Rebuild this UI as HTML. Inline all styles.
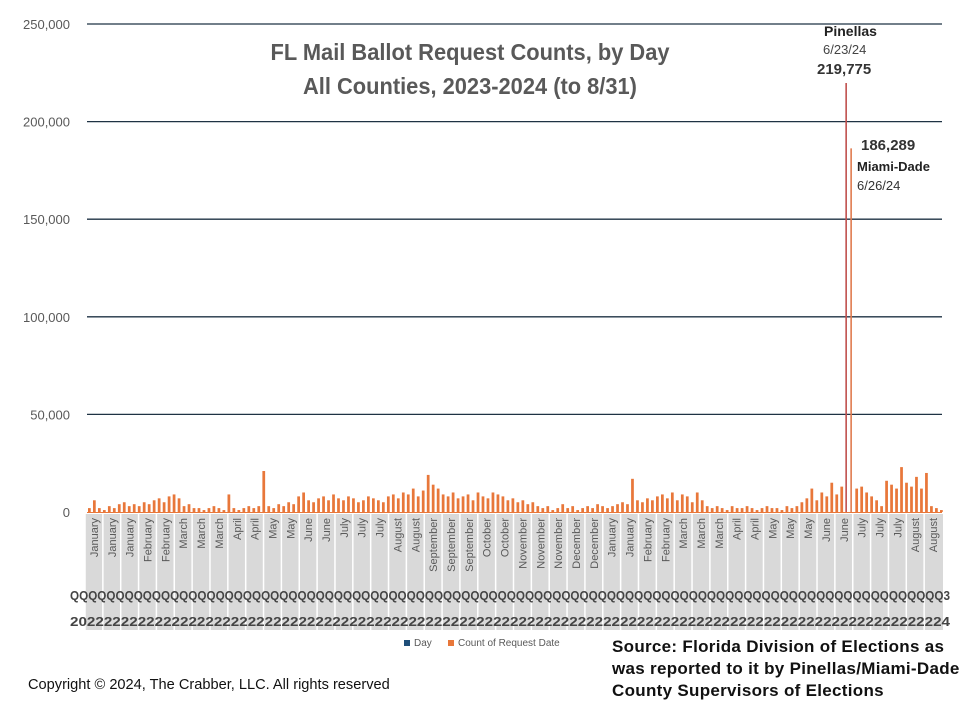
<!DOCTYPE html>
<html><head><meta charset="utf-8">
<style>
body{margin:0;background:#fff;}
#wrap{position:relative;width:967px;height:705px;overflow:hidden;font-family:"Liberation Sans",sans-serif;}
.t{position:absolute;white-space:nowrap;}
</style></head>
<body>
<div id="wrap">
<svg id="chart" width="967" height="705" style="position:absolute;left:0;top:0"></svg>
<div class="t" style="left:170px;top:35px;width:600px;text-align:center;font-weight:bold;font-size:23px;line-height:34px;color:#595959;transform:scaleX(0.95);transform-origin:center;">FL Mail Ballot Request Counts, by Day<br>All Counties, 2023-2024 (to 8/31)</div>
<div class="t" style="left:824px;top:23px;font-weight:bold;font-size:14px;color:#222;">Pinellas</div>
<div class="t" style="left:823px;top:42px;font-size:13px;color:#444;">6/23/24</div>
<div class="t" style="left:817px;top:61px;font-weight:bold;font-size:15px;color:#333;">219,775</div>
<div class="t" style="left:861px;top:137px;font-weight:bold;font-size:15px;color:#333;">186,289</div>
<div class="t" style="left:857px;top:159px;font-weight:bold;font-size:13px;color:#222;">Miami-Dade</div>
<div class="t" style="left:857px;top:178px;font-size:13px;color:#333;">6/26/24</div>
<div class="t" style="left:612px;top:636px;font-weight:bold;font-size:17px;letter-spacing:0.3px;line-height:22px;color:#111;">Source: Florida Division of Elections as<br>was reported to it by Pinellas/Miami-Dade<br>County Supervisors of Elections</div>
<div class="t" style="left:28px;top:677px;font-size:14.6px;color:#111;">Copyright © 2024, The Crabber, LLC. All rights reserved</div>
<div class="t" style="left:404px;top:638px;font-size:10px;color:#595959;"><span style="display:inline-block;width:6px;height:6px;background:#1f4e79;margin-right:4px;"></span>Day</div>
<div class="t" style="left:448px;top:638px;font-size:10px;color:#595959;"><span style="display:inline-block;width:6px;height:6px;background:#e8773a;margin-right:4px;"></span>Count of Request Date</div>
</div>
<script>
const yTicks=[0,50000,100000,150000,200000,250000];
const yTickLabels=["0","50,000","100,000","150,000","200,000","250,000"];
const months=["January","January","January","February","February","March","March","March","April","April","May","May","June","June","July","July","July","August","August","September","September","September","October","October","November","November","November","December","December","January","January","February","February","March","March","March","April","April","May","May","May","June","June","July","July","July","August","August"];
const counts=[2,6,2,1,3,2,4,5,3,4,3,
5,4,6,7,5,8,9,7,
3,4,2,2,1,2,3,2,1,9,2,1,2,3,2,3,21,
3,2,4,3,5,4,8,10,6,5,7,8,6,9,7,6,8,7,5,6,8,7,6,5,8,9,7,
10,9,12,8,11,19,14,12,
9,8,10,7,8,9,6,10,8,7,10,9,8,6,7,5,6,4,5,3,
2,3,1,2,4,2,3,1,2,3,2,4,3,2,3,4,
5,4,17,6,5,7,6,8,9,
7,10,6,9,8,5,10,6,
3,2,3,2,1,3,2,2,3,2,1,2,3,2,2,1,3,2,3,
5,7,12,6,10,8,15,9,13,
219.775,186.289,
12,13,10,8,6,3,16,14,12,23,15,13,18,12,20,3,2,1];
const NS="http://www.w3.org/2000/svg";
const svg=document.getElementById('chart');
const X0=88,X1=945,Y0=512,Y1=24,VMAX=250000;
function y(v){return Y0-(v/VMAX)*(Y0-Y1);}
function x(i){return X0+i*(X1-X0)/counts.length;}
function mk(tag,a){const e=document.createElementNS(NS,tag);for(const k in a)e.setAttribute(k,a[k]);svg.appendChild(e);return e;}
let band=mk('rect',{x:85,y:514,width:858,height:116,fill:'#d9d9d9'});


const cw=(942-85)/months.length;
months.forEach((m,i)=>{
  const cx=85+i*cw;
  let l=mk('line',{x1:cx,y1:514,x2:cx,y2:630,stroke:'#fff','stroke-width':1.5});
  
  
  let t=mk('text',{x:0,y:0,transform:`translate(${cx+cw/2+4},518) rotate(-90)`,'text-anchor':'end','font-size':11,fill:'#595959','font-family':'Liberation Sans,sans-serif'});
  t.textContent=m;
  
  
});
let q=mk('text',{x:70,y:600,'font-size':13,fill:'#444','font-weight':'bold','textLength':880,'lengthAdjust':'spacingAndGlyphs','font-family':'Liberation Sans,sans-serif'});
q.textContent='Q'+'Q'.repeat(95)+'3';


let yr=mk('text',{x:70,y:626,'font-size':13,fill:'#444','font-weight':'bold','textLength':880,'lengthAdjust':'spacingAndGlyphs','font-family':'Liberation Sans,sans-serif'});
yr.textContent='20'+'2'.repeat(100)+'24';


yTicks.forEach((v,i)=>{
  if(v>0){let g=mk('line',{x1:87,x2:942,y1:y(v),y2:y(v),stroke:'#1f3344','stroke-width':1.3});
  
  }
  let t=mk('text',{x:70,y:y(v)+5,'text-anchor':'end','font-size':13,fill:'#595959','font-family':'Liberation Sans,sans-serif'});
  t.textContent=yTickLabels[i];
  
  
});
const bw=(X1-X0)/counts.length;
counts.forEach((c,i)=>{
  const v=c*1000;
  const big=v>100000;
  let r=mk('rect',{x:x(i),y:y(v),width:big?1.6:bw*0.55,height:Y0-y(v),fill:big?(i===152?'#c0504d':'#e07b4f'):'#e8773a'});
  
  
});
let base=mk('line',{x1:87,x2:942,y1:Y0+0.5,y2:Y0+0.5,stroke:'#e8773a','stroke-width':1});


</script>
</body></html>
